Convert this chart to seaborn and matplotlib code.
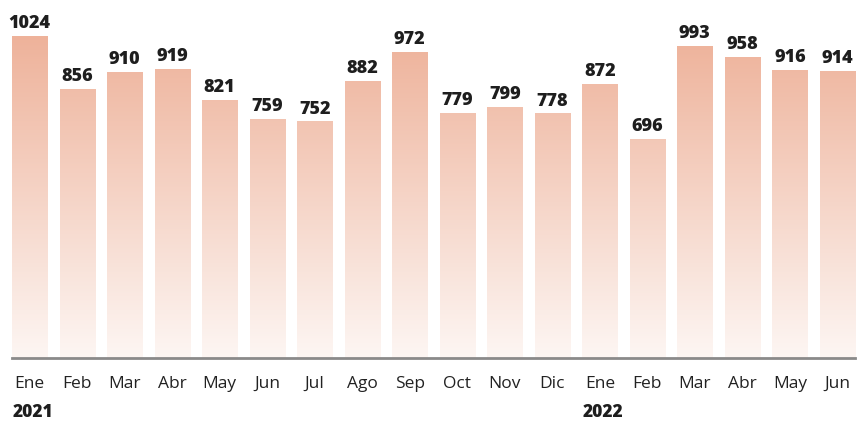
import numpy as np
import pandas as pd
import matplotlib
matplotlib.use("Agg")
import matplotlib.pyplot as plt
from matplotlib.colors import LinearSegmentedColormap
import seaborn as sns

months = ["Ene", "Feb", "Mar", "Abr", "May", "Jun", "Jul", "Ago", "Sep",
          "Oct", "Nov", "Dic", "Ene", "Feb", "Mar", "Abr", "May", "Jun"]
values = [1024, 856, 910, 919, 821, 759, 752, 882, 972,
          779, 799, 778, 872, 696, 993, 958, 916, 914]
years = ["2021", "2022"]
year_start = [0, 12]

df = pd.DataFrame({"pos": range(len(values)), "value": values})

sns.set_theme(style="white")
plt.rcParams["font.family"] = ["Open Sans", "DejaVu Sans"]

fig = plt.figure(figsize=(8.65, 4.22), dpi=100)
ax = fig.add_axes([12 / 865, 64 / 422, 843 / 865, 346 / 422])

sns.barplot(data=df, x="pos", y="value", width=0.74, color="#eeb39c",
            ax=ax, native_scale=True)

# vertical gradient shared by all bars, clipped to each bar
cmap = LinearSegmentedColormap.from_list("grad", ["#fdf6f3", "#eeb29a"])
grad = np.linspace(0, 1, 256).reshape(-1, 1)
for p in ax.patches:
    p.set_facecolor("none")
    p.set_edgecolor("none")
    im = ax.imshow(grad, cmap=cmap, aspect="auto", origin="lower",
                   extent=[-0.5, len(values), 0, 1024], zorder=1)
    im.set_clip_path(p)
ax.set_xlim(-0.37, len(values) - 0.63)
ax.set_ylim(0, 1100)

for i, v in enumerate(values):
    ax.text(i, v + 12, str(v), ha="center", va="bottom", fontsize=13,
            fontweight=800, color="#1e1e1e")

ax.set_xticks(range(len(values)))
ax.set_xticklabels(months, fontsize=12.5, color="#222222")
ax.tick_params(axis="x", length=0, pad=13)
ax.set_yticks([])
ax.set_xlabel("")
ax.set_ylabel("")

for s in ["top", "right", "left"]:
    ax.spines[s].set_visible(False)
ax.spines["bottom"].set_color("#8a8a8a")
ax.spines["bottom"].set_linewidth(2)
ax.spines["bottom"].set_zorder(5)

for y, start in zip(years, year_start):
    ax.annotate(y, xy=(start + 0.07, 0), xycoords="data",
                xytext=(0, -39.5), textcoords="offset points",
                ha="center", va="center", fontsize=12.5,
                fontweight=800, color="#1e1e1e")

fig.savefig("out.png", dpi=100)
